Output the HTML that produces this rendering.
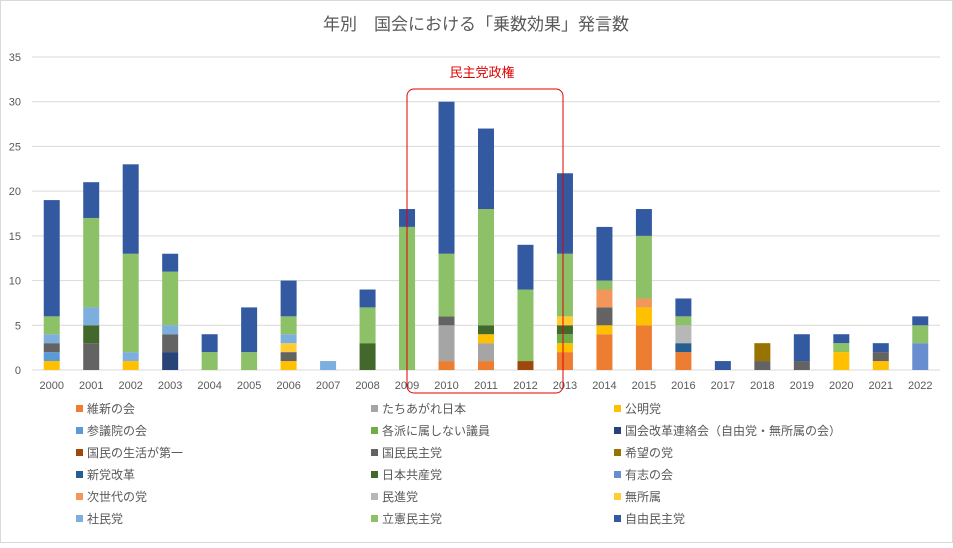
<!DOCTYPE html>
<html><head><meta charset="utf-8"><style>
body{margin:0;background:#fff;}
svg text{font-family:"Liberation Sans","Noto Sans CJK JP",sans-serif;}
</style></head><body>
<svg id="chart" width="953" height="543" viewBox="0 0 953 543">
<rect x="0.5" y="0.5" width="952" height="542" fill="#fff" stroke="#d9d9d9"/>
<text x="476" y="30" text-anchor="middle" font-size="17" fill="#595959">年別　国会における「乗数効果」発言数</text>
<g id="grid"></g><g id="bars"></g><g id="xlabels"></g><g id="legend"></g>
<rect x="407" y="89" width="156" height="304" rx="7" fill="none" stroke="#e00000" stroke-width="1"/>
<text x="482" y="77" text-anchor="middle" font-size="13" fill="#e00000">民主党政権</text>
</svg>
<script>
const years=["2000","2001","2002","2003","2004","2005","2006","2007","2008","2009","2010","2011","2012","2013","2014","2015","2016","2017","2018","2019","2020","2021","2022"];
const seriesNames=["維新の会","たちあがれ日本","公明党","参議院の会","各派に属しない議員","国会改革連絡会（自由党・無所属の会）","国民の生活が第一","国民民主党","希望の党","新党改革","日本共産党","有志の会","次世代の党","民進党","無所属","社民党","立憲民主党","自由民主党"];
const seriesColors=["#ED7D31","#A5A5A5","#FFC000","#5B9BD5","#70AD47","#264478","#9E480E","#636363","#997300","#255E91","#43682B","#698ED0","#F1975A","#B7B7B7","#FFCD33","#7CAFDD","#8CC168","#335AA1"];
const ishin=[0,0,0,0,0,0,0,0,0,0,1,1,0,2,4,5,2,0,0,0,0,0,0];
const tachiagare=[0,0,0,0,0,0,0,0,0,0,4,2,0,0,0,0,0,0,0,0,0,0,0];
const komei=[1,0,1,0,0,0,1,0,0,0,0,1,0,1,1,2,0,0,0,0,2,1,0];
const sangiin=[1,0,0,0,0,0,0,0,0,0,0,0,0,0,0,0,0,0,0,0,0,0,0];
const kakuha=[0,0,0,0,0,0,0,0,0,0,0,0,0,1,0,0,0,0,0,0,0,0,0];
const kokkaiKaikaku=[0,0,0,2,0,0,0,0,0,0,0,0,0,0,0,0,0,0,0,0,0,0,0];
const seikatsu=[0,0,0,0,0,0,0,0,0,0,0,0,1,0,0,0,0,0,0,0,0,0,0];
const kokumin=[1,3,0,2,0,0,1,0,0,0,1,0,0,0,2,0,0,0,1,1,0,1,0];
const kibou=[0,0,0,0,0,0,0,0,0,0,0,0,0,0,0,0,0,0,2,0,0,0,0];
const shintou=[0,0,0,0,0,0,0,0,0,0,0,0,0,0,0,0,1,0,0,0,0,0,0];
const kyosan=[0,2,0,0,0,0,0,0,3,0,0,1,0,1,0,0,0,0,0,0,0,0,0];
const yushi=[0,0,0,0,0,0,0,0,0,0,0,0,0,0,0,0,0,0,0,0,0,0,3];
const jisedai=[0,0,0,0,0,0,0,0,0,0,0,0,0,0,2,1,0,0,0,0,0,0,0];
const minshin=[0,0,0,0,0,0,0,0,0,0,0,0,0,0,0,0,2,0,0,0,0,0,0];
const mushozoku=[0,0,0,0,0,0,1,0,0,0,0,0,0,1,0,0,0,0,0,0,0,0,0];
const shamin=[1,2,1,1,0,0,1,1,0,0,0,0,0,0,0,0,0,0,0,0,0,0,0];
const rikken=[2,10,11,6,2,2,2,0,4,16,7,13,8,7,1,7,1,0,0,0,1,0,2];
const jimin=[13,4,10,2,2,5,4,0,2,2,17,9,5,9,6,3,2,1,0,3,1,1,1];
const seriesValues=[ishin,tachiagare,komei,sangiin,kakuha,kokkaiKaikaku,seikatsu,kokumin,kibou,shintou,kyosan,yushi,jisedai,minshin,mushozoku,shamin,rikken,jimin];
const yTicks=[0,5,10,15,20,25,30,35];
const NS="http://www.w3.org/2000/svg";
const plotL=32,plotR=940,y0=370,yTop=57,yMax=35;
const yScale=v=>y0-(y0-yTop)*v/yMax;
const step=(plotR-plotL)/years.length;
const xCenter=i=>plotL+step*(i+0.5);
const barW=16;
function mk(tag,attrs,parent){const e=document.createElementNS(NS,tag);for(const k in attrs)e.setAttribute(k,attrs[k]);parent.appendChild(e);return e;}
const grid=document.getElementById('grid');
yTicks.forEach(t=>{
  const l=mk('line',{x1:plotL,x2:plotR,y1:yScale(t),y2:yScale(t),stroke:'#d9d9d9','stroke-width':1},grid);
  
  
  const tx=mk('text',{x:21,y:yScale(t)+4,'text-anchor':'end','font-size':11,fill:'#595959'},grid);
  tx.textContent=t;
  
  
});
const bars=document.getElementById('bars');
years.forEach((yr,i)=>{
  let cum=0;
  seriesValues.forEach((vals,s)=>{
    const v=vals[i];if(!v)return;
    const r=mk('rect',{x:xCenter(i)-barW/2,y:yScale(cum+v),width:barW,height:yScale(cum)-yScale(cum+v),fill:seriesColors[s]},bars);
    
    
    cum+=v;
  });
});
const xl=document.getElementById('xlabels');
years.forEach((yr,i)=>{
  const t=mk('text',{x:xCenter(i),y:389,'text-anchor':'middle','font-size':11,fill:'#595959'},xl);
  t.textContent=yr;
  
  
});
const lg=document.getElementById('legend');
const colX=[76,371,614];
seriesNames.forEach((n,s)=>{
  const c=s%3,r=Math.floor(s/3);
  const cy=409+r*22;
  const g=mk('g',{},lg);
  
  
  mk('rect',{x:colX[c],y:cy-4,width:7,height:7,fill:seriesColors[s]},g);
  const t=mk('text',{x:colX[c]+11,y:cy+4,'font-size':12,fill:'#595959'},g);
  t.textContent=n;
});
</script>
</body></html>
